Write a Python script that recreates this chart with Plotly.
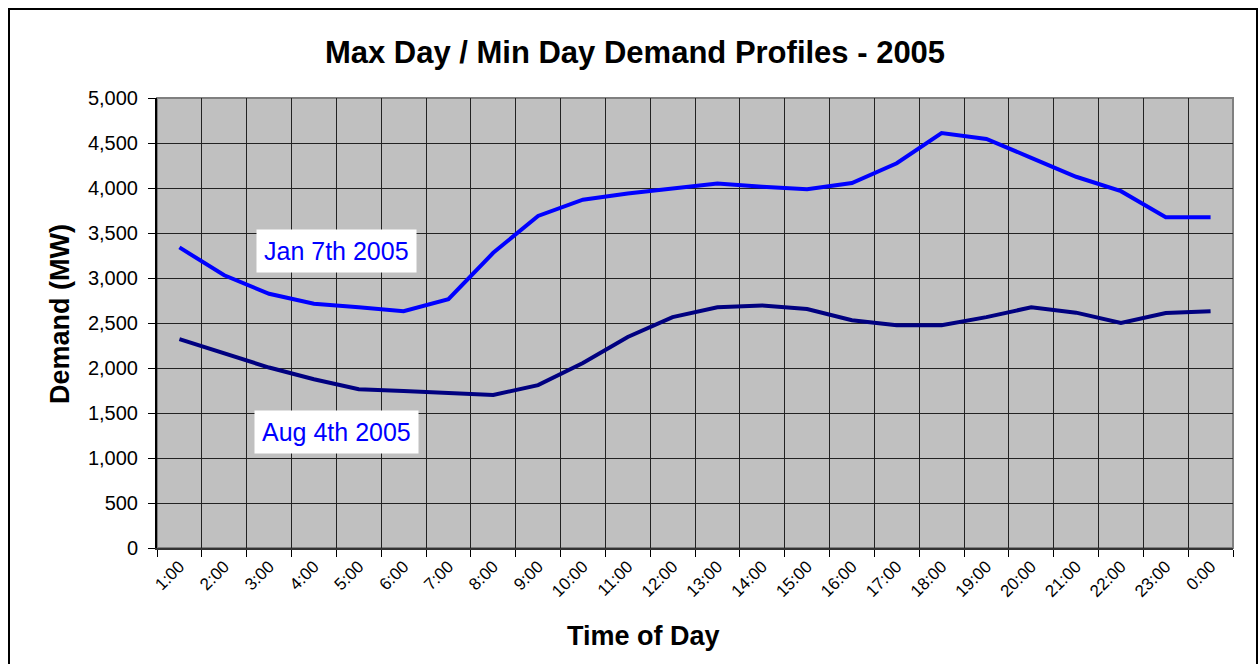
import plotly.graph_objects as go

hours = ["1:00", "2:00", "3:00", "4:00", "5:00", "6:00", "7:00", "8:00", "9:00", "10:00",
         "11:00", "12:00", "13:00", "14:00", "15:00", "16:00", "17:00", "18:00", "19:00",
         "20:00", "21:00", "22:00", "23:00", "0:00"]
jan_7 = [3340, 3030, 2825, 2715, 2675, 2630, 2765, 3280, 3690, 3870, 3940, 3990,
         4050, 4015, 3985, 4055, 4275, 4610, 4545, 4335, 4125, 3965, 3675, 3675]
aug_4 = [2320, 2165, 2005, 1875, 1765, 1745, 1725, 1700, 1810, 2055, 2345, 2565,
         2675, 2695, 2655, 2530, 2475, 2475, 2565, 2675, 2615, 2500, 2610, 2630]

FONT = "Liberation Sans, Arial, sans-serif"

fig = go.Figure()
fig.add_trace(go.Scatter(x=hours, y=jan_7, mode="lines", name="Jan 7th 2005",
                         line=dict(color="#0000FF", width=4)))
fig.add_trace(go.Scatter(x=hours, y=aug_4, mode="lines", name="Aug 4th 2005",
                         line=dict(color="#000080", width=4)))

L, R, T, B = 157, 1233, 98, 548
W, H = 1260, 664
pw, ph = R - L, B - T

fig.update_layout(
    width=W, height=H,
    margin=dict(l=L, r=W - R, t=T, b=H - B, pad=0),
    paper_bgcolor="white",
    plot_bgcolor="#C0C0C0",
    showlegend=False,
    hovermode=False,
    font=dict(family=FONT, color="black"),
    title=dict(text="<b>Max Day / Min Day Demand Profiles - 2005</b>",
               x=635 / W, xref="container", xanchor="center",
               y=1 - 52 / H, yref="container", yanchor="middle",
               font=dict(size=31, family=FONT, color="black")),
)

fig.update_xaxes(
    type="category", tickson="boundaries", ticks="outside", ticklen=7,
    tickcolor="black", tickwidth=1,
    showgrid=True, gridcolor="#222222", gridwidth=1,
    showline=True, linecolor="#333333", linewidth=2,
    tickangle=-45, tickfont=dict(size=17, family=FONT, color="black"),
    range=[-0.5, 23.5], zeroline=False,
)
fig.update_yaxes(
    range=[0, 5000], dtick=500, tickformat=",d",
    ticks="outside", ticklen=7, tickcolor="black", tickwidth=1,
    ticklabelstandoff=6,
    showgrid=True, gridcolor="#222222", gridwidth=1,
    showline=True, linecolor="black", linewidth=2,
    tickfont=dict(size=20, family=FONT, color="black"),
    zeroline=False,
)

# plot area border (top/right grey)
fig.add_shape(type="rect", xref="paper", yref="paper", x0=0, x1=1, y0=0, y1=1,
              line=dict(color="#808080", width=2), layer="below")
# outer chart border
fig.add_shape(type="rect", xref="paper", yref="paper",
              x0=(9 - L) / pw, x1=(1257 - L) / pw,
              y0=(B - 700) / ph, y1=(B - 9) / ph,
              line=dict(color="black", width=2))

# axis titles
fig.add_annotation(text="<b>Demand (MW)</b>", xref="paper", yref="paper",
                   x=(60 - L) / pw, y=(B - 314) / ph, textangle=-90,
                   xanchor="center", yanchor="middle",
                   showarrow=False, font=dict(size=27, family=FONT, color="black"))
fig.add_annotation(text="<b>Time of Day</b>", xref="paper", yref="paper",
                   x=(643 - L) / pw, y=(B - 636) / ph,
                   xanchor="center", yanchor="middle",
                   showarrow=False, font=dict(size=27, family=FONT, color="black"))

# series labels
fig.add_annotation(text="Jan 7th 2005", x=3.5, y=3300, xref="x", yref="y",
                   showarrow=False, bgcolor="white", borderpad=7,
                   xanchor="center", yanchor="middle",
                   font=dict(size=25, family=FONT, color="#0000FF"))
fig.add_annotation(text="Aug 4th 2005", x=3.5, y=1290, xref="x", yref="y",
                   showarrow=False, bgcolor="white", borderpad=7,
                   xanchor="center", yanchor="middle",
                   font=dict(size=25, family=FONT, color="#0000FF"))

fig.write_html("out.html",
               config={"displayModeBar": False, "staticPlot": True},
               post_script="document.body.style.margin='0';document.body.style.overflow='hidden';")
